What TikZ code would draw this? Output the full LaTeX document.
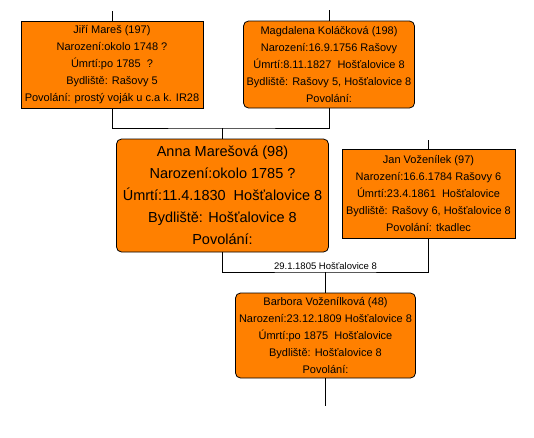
\documentclass[tikz,border=0pt]{standalone}
\usepackage{fontspec}
\setmainfont{Liberation Sans}
\definecolor{boxorange}{HTML}{FF8000}
\tikzset{
  person/.style={draw=black, fill=boxorange, line width=0.8pt, inner sep=0pt, align=center, text=black},
  small/.style={person, font=\fontsize{11}{17}\selectfont},
  big/.style={person, font=\fontsize{14.5}{22}\selectfont},
  rnd/.style={rounded corners=5pt},
  link/.style={draw=black, line width=0.8pt},
  lbl/.style={font=\fontsize{9.5}{11}\selectfont, inner sep=0pt, anchor=base}
}
\begin{document}
\begin{tikzpicture}[x=1pt,y=-1pt]
\useasboundingbox (0,0) rectangle (534,437);
\node[small, minimum width=182pt, minimum height=87pt] (b1) at (112,64.5)
  {Jiří\ Mareš (197)\\Narození:okolo 1748 ?\\Úmrtí:po 1785\ \ ?\\Bydliště: Rašovy 5\\Povolání: prostý voják u c.a k. IR28};
\node[small, rnd, minimum width=171pt, minimum height=87pt] (b2) at (329,64.5)
  {Magdalena Koláčková (198)\\Narození:16.9.1756 Rašovy\\Úmrtí:8.11.1827\ \ Hošťalovice 8\\Bydliště: Rašovy 5, Hošťalovice 8\\Povolání:};
\node[big, rnd, minimum width=212pt, minimum height=113pt] (b3) at (222.5,195.5)
  {Anna Marešová (98)\\Narození:okolo 1785 ?\\Úmrtí:11.4.1830\ \ Hošťalovice 8\\Bydliště: Hošťalovice 8\\Povolání:};
\node[small, minimum width=173pt, minimum height=89pt] (b4) at (428.5,193.5)
  {Jan Voženílek (97)\\Narození:16.6.1784 Rašovy 6\\Úmrtí:23.4.1861\ \ Hošťalovice\\Bydliště: Rašovy 6, Hošťalovice 8\\Povolání: tkadlec};
\node[small, rnd, minimum width=180pt, minimum height=85pt] (b5) at (325.5,335.5)
  {Barbora Voženílková (48)\\Narození:23.12.1809 Hošťalovice 8\\Úmrtí:po 1875\ \ Hošťalovice\\Bydliště: Hošťalovice 8\\Povolání:};
\coordinate (p1) at (222.5,128);
\coordinate (m1) at (325.5,272);
\coordinate (t1) at (112,11);
\coordinate (t2) at (329,10);
\coordinate (t4) at (428.5,140);
\coordinate (e5) at (325.5,406);
\draw[link] (t1) -- (b1.north);
\draw[link] (t2) -- (b2.north);
\draw[link] (t4) -- (b4.north);
\draw[link] (b1.south) |- (p1) -| (b2.south);
\draw[link] (p1) -- (b3.north);
\draw[link] (b3.south) |- (m1) -| (b4.south);
\draw[link] (m1) -- (b5.north);
\draw[link] (b5.south) -- (e5);
\node[lbl] (ml) at (325.5,269.5) {29.1.1805 Hošťalovice 8};
\end{tikzpicture}
\end{document}
